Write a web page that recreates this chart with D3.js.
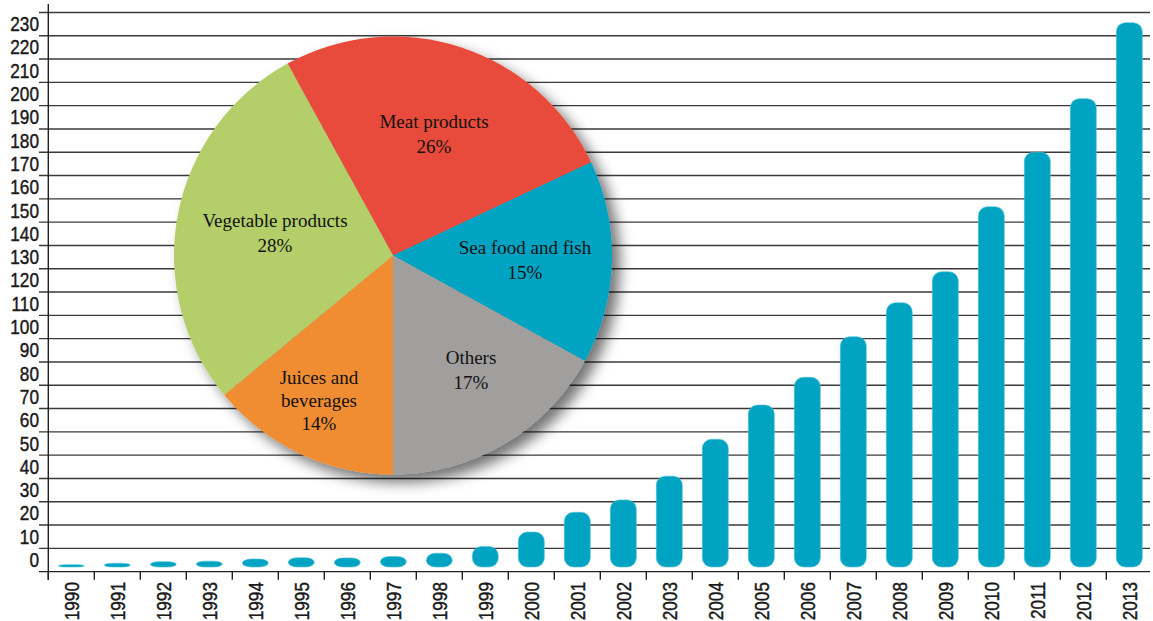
<!DOCTYPE html>
<html>
<head>
<meta charset="utf-8">
<script src="https://cdn.jsdelivr.net/npm/d3@7"></script>
<style>
  html, body { margin: 0; padding: 0; background: #fff; }
  svg { display: block; }
  .axis-label { font-family: "Liberation Sans", Arial, sans-serif; font-size: 21px; fill: #1a1a1a; stroke: #1a1a1a; stroke-width: 0.45px; }
  .pie-label { font-family: "Liberation Serif", "Times New Roman", serif; font-size: 19px; fill: #111; }
</style>
</head>
<body>
<svg id="chart" width="1153" height="621"></svg>
<script>
// Yearly totals, 1990–2013
const years = ["1990","1991","1992","1993","1994","1995","1996","1997","1998","1999","2000","2001",
               "2002","2003","2004","2005","2006","2007","2008","2009","2010","2011","2012","2013"];
const totals = [1, 1.6, 2.3, 2.5, 3.4, 4, 3.9, 4.5, 5.9, 8.8, 15, 23.5,
                28.8, 39, 54.8, 69.5, 81.4, 98.8, 113.4, 126.7, 154.6, 178, 201, 233.6];

// Value-axis labels
const yTickLabels = [0,10,20,30,40,50,60,70,80,90,100,110,120,130,140,150,160,170,180,190,200,210,220,230];

// Share by product group
const groups = ["Meat products", "Sea food and fish", "Others", "Juices and beverages", "Vegetable products"];
const shares = [26, 15, 17, 14, 28];
const groupLines = [["Meat products"], ["Sea food and fish"], ["Others"], ["Juices and", "beverages"], ["Vegetable products"]];
const groupColors = ["#e84c3b", "#00a4c2", "#a09f9e", "#f08d32", "#b4cf6a"];

const svg = d3.select("#chart");

const x = d3.scaleBand().domain(years).range([48.3, 1152.3]).paddingInner(0.435).paddingOuter(0.2175);
const y = d3.scaleLinear().domain([0, 240]).range([567, 567 - 240 * 2.33]);

// Condensed lettering for the axis labels
const narrow = 0.82;

// Horizontal rules, one just under each label's row
const gridValues = d3.range(0, 25).map(k => k * 10 - 2);
svg.append("g")
  .selectAll("line")
  .data(gridValues)
  .join("line")
  .attr("x1", 39).attr("x2", 1150)
  .attr("y1", d => y(d)).attr("y2", d => y(d))
  .attr("stroke", d => d === -2 ? "#222" : "#3a3a3a")
  .attr("stroke-width", 1.4);

// Vertical axis line
svg.append("line")
  .attr("x1", 48.3).attr("x2", 48.3)
  .attr("y1", 4).attr("y2", y(-2) + 8)
  .attr("stroke", "#222").attr("stroke-width", 1.4);

// Year separators below the baseline
svg.append("g")
  .selectAll("line")
  .data(years)
  .join("line")
  .attr("x1", d => x(d) - x.paddingOuter() * x.step())
  .attr("x2", d => x(d) - x.paddingOuter() * x.step())
  .attr("y1", y(-2)).attr("y2", y(-2) + 8)
  .attr("stroke", "#222").attr("stroke-width", 1.4);

// Value labels
svg.append("g")
  .selectAll("text")
  .data(yTickLabels)
  .join("text")
  .attr("class", "axis-label")
  .attr("text-anchor", "end")
  .attr("transform", d => `translate(39,${y(d)}) scale(${narrow},1)`)
  .text(d => d);

// Year labels, rotated
svg.append("g")
  .selectAll("text")
  .data(years)
  .join("text")
  .attr("class", "axis-label")
  .attr("text-anchor", "end")
  .attr("transform", d => `translate(${x(d) + x.bandwidth() / 2 + 7.5},582) rotate(-90) scale(${narrow},1)`)
  .text(d => d);

// Capsule bars
svg.append("g")
  .selectAll("rect")
  .data(years.map((yr, i) => ({ yr, v: totals[i] })))
  .join("rect")
  .attr("x", d => x(d.yr))
  .attr("width", x.bandwidth())
  .attr("y", d => y(d.v))
  .attr("height", d => y(0) - y(d.v))
  .attr("rx", 9).attr("ry", 9)
  .attr("fill", "#00a3c1")
  .attr("stroke", "#4cc3da")
  .attr("stroke-width", 0.6);

// Pie with soft drop shadow
const defs = svg.append("defs");
const shadow = defs.append("filter").attr("id", "pieShadow")
  .attr("x", "-20%").attr("y", "-20%").attr("width", "140%").attr("height", "140%");
shadow.append("feDropShadow")
  .attr("dx", 8).attr("dy", 8).attr("stdDeviation", 7)
  .attr("flood-color", "#000").attr("flood-opacity", 0.55);

const cx = 393, cy = 255.5, r = 219;
const start = -0.08 * 2 * Math.PI;
const pie = d3.pie().sort(null).startAngle(start).endAngle(start + 2 * Math.PI);
const arcs = pie(shares);
const arc = d3.arc().innerRadius(0).outerRadius(r);

const pieG = svg.append("g").attr("transform", `translate(${cx},${cy})`);
pieG.append("g").attr("filter", "url(#pieShadow)")
  .selectAll("path")
  .data(arcs)
  .join("path")
  .attr("d", arc)
  .attr("fill", (d, i) => groupColors[i]);

// Slice labels
const labelPos = [[41, -128], [132, -2], [78, 108], [-74, 128], [-118, -29]];
const lineGap = [25, 25, 25, 23, 25];
pieG.append("g")
  .selectAll("text")
  .data(arcs)
  .join("text")
  .attr("class", "pie-label")
  .attr("text-anchor", "middle")
  .attr("transform", (d, i) => `translate(${labelPos[i][0]},${labelPos[i][1]})`)
  .each(function (d, i) {
    const t = d3.select(this);
    const lines = groupLines[i].concat([shares[i] + "%"]);
    lines.forEach((ln, j) => {
      t.append("tspan").attr("x", 0).attr("dy", j === 0 ? 0 : lineGap[i]).text(ln);
    });
  });
</script>
</body>
</html>
